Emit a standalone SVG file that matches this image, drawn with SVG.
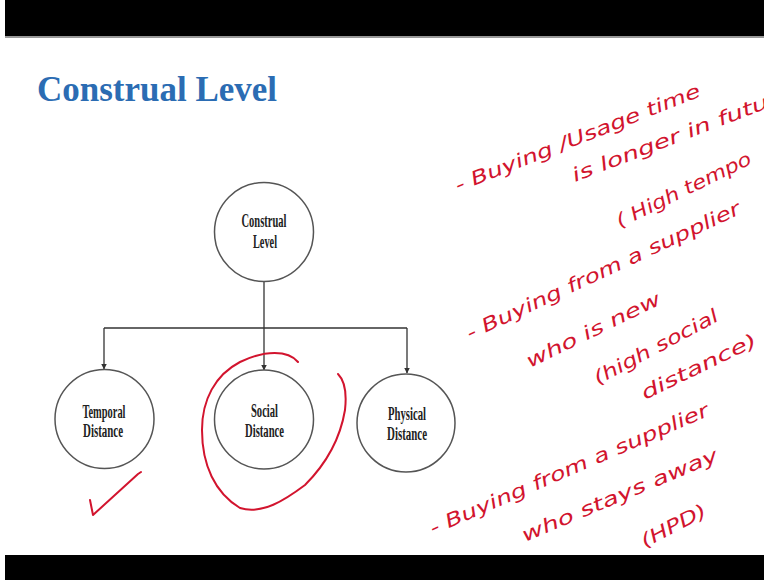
<svg xmlns="http://www.w3.org/2000/svg" width="764" height="580" viewBox="0 0 764 580">
<style>
.bar{fill:#000}
.title{font-family:"Liberation Serif",serif;font-weight:bold;font-size:35px;fill:#2b6cb3}
.node circle{fill:#fff;stroke:#555;stroke-width:1.5}
.node text{font-family:"Liberation Serif",serif;font-weight:bold;font-size:18px;fill:#222;text-anchor:middle}
.conn{fill:none;stroke:#333;stroke-width:1.3}
.ink{fill:none;stroke:#d2142e;stroke-width:2;stroke-linecap:round;stroke-linejoin:round}
.hand{font-family:"DejaVu Sans",sans-serif;font-style:italic;font-size:19px;fill:#d2142e}
</style>
<defs>
<marker id="arr" markerWidth="6" markerHeight="7" refX="5.5" refY="3" orient="auto" markerUnits="userSpaceOnUse">
<path d="M0,0 L6,3 L0,6 Z" fill="#333"/>
</marker>
</defs>
<rect width="764" height="580" fill="#fff"/>
<rect class="bar" x="5" y="0" width="759" height="36"/>
<rect x="5" y="36" width="759" height="2" fill="#999"/>
<rect class="bar" x="5" y="555" width="759" height="25"/>
<text class="title" x="37" y="101" textLength="240" lengthAdjust="spacingAndGlyphs">Construal Level</text>
<g id="connectors">
<path class="conn" d="M264,282 V370" marker-end="url(#arr)"/>
<path class="conn" d="M104,328 H407"/>
<path class="conn" d="M104,328 V369" marker-end="url(#arr)"/>
<path class="conn" d="M407,328 V373" marker-end="url(#arr)"/>
</g>
<g id="construal-level" class="node">
<circle cx="264" cy="232" r="49.5"/>
<text x="264" y="227" textLength="45" lengthAdjust="spacingAndGlyphs">Construal</text>
<text x="265" y="248" textLength="24" lengthAdjust="spacingAndGlyphs">Level</text>
</g>
<g id="temporal-distance" class="node">
<circle cx="104.5" cy="419" r="49.5"/>
<text x="104" y="418" textLength="43" lengthAdjust="spacingAndGlyphs">Temporal</text>
<text x="103" y="437" textLength="40" lengthAdjust="spacingAndGlyphs">Distance</text>
</g>
<g id="social-distance" class="node">
<circle cx="264" cy="419.5" r="49.5"/>
<text x="264.5" y="417" textLength="27" lengthAdjust="spacingAndGlyphs">Social</text>
<text x="264.5" y="437" textLength="39" lengthAdjust="spacingAndGlyphs">Distance</text>
</g>
<g id="physical-distance" class="node">
<circle cx="406" cy="423" r="49"/>
<text x="407" y="420" textLength="38" lengthAdjust="spacingAndGlyphs">Physical</text>
<text x="407" y="440" textLength="40" lengthAdjust="spacingAndGlyphs">Distance</text>
</g>
<g id="annotations">
<path class="ink" d="M298,362 C288,350 265,350 240,362 C215,375 202,400 202,430 C202,465 215,493 240,508 C262,515 285,500 305,485 C325,465 340,440 345,410 C347,392 344,380 338,374"/>
<path class="ink" d="M90,500 L93,515 L138,474 L141,472" stroke="#b03050"/>
<text class="hand" transform="translate(458,192) rotate(-21.5)" textLength="262" lengthAdjust="spacingAndGlyphs">- Buying /Usage time</text>
<text class="hand" transform="translate(575,182) rotate(-21)" textLength="209" lengthAdjust="spacingAndGlyphs">is longer in futu</text>
<text class="hand" transform="translate(620,228) rotate(-26)" textLength="148" lengthAdjust="spacingAndGlyphs">( High tempo</text>
<text class="hand" transform="translate(470,340) rotate(-25)" textLength="300" lengthAdjust="spacingAndGlyphs">- Buying from a supplier</text>
<text class="hand" transform="translate(530,368) rotate(-26)" textLength="147" lengthAdjust="spacingAndGlyphs">who is new</text>
<text class="hand" transform="translate(598,385) rotate(-28)" textLength="138" lengthAdjust="spacingAndGlyphs">(high social</text>
<text class="hand" transform="translate(645,400) rotate(-26)" textLength="126" lengthAdjust="spacingAndGlyphs">distance)</text>
<text class="hand" transform="translate(433,535) rotate(-23.4)" textLength="302" lengthAdjust="spacingAndGlyphs">- Buying from a supplier</text>
<text class="hand" transform="translate(525,542) rotate(-22.8)" textLength="211" lengthAdjust="spacingAndGlyphs">who stays away</text>
<text class="hand" transform="translate(645,548) rotate(-27.6)" textLength="71" lengthAdjust="spacingAndGlyphs">(HPD)</text>
</g>
</svg>
